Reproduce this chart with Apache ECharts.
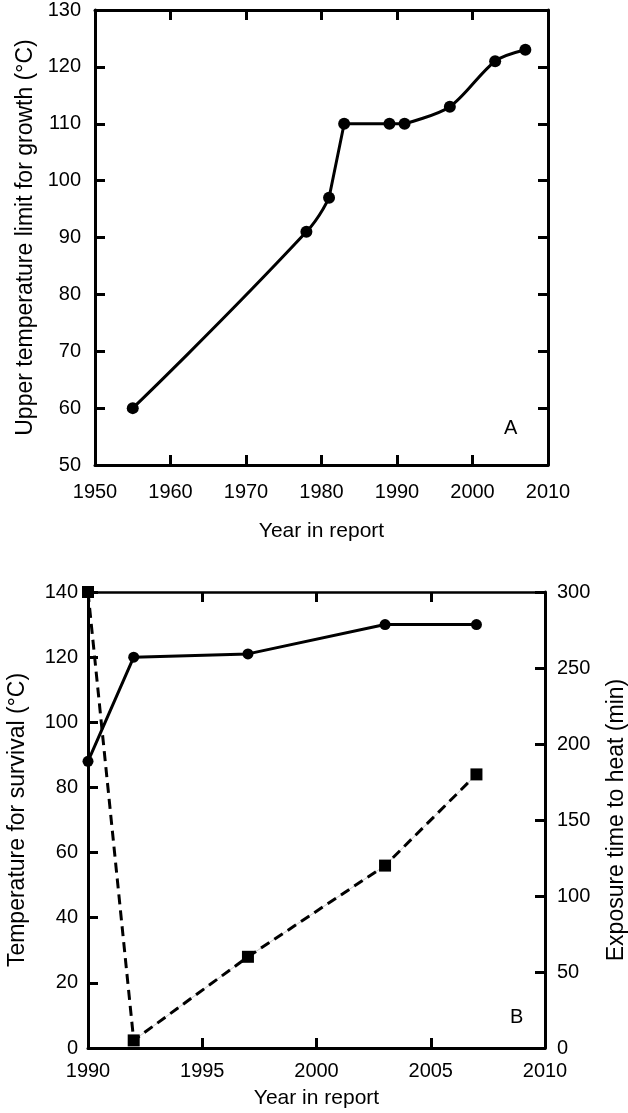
<!DOCTYPE html>
<html>
<head>
<meta charset="utf-8">
<script src="https://cdn.jsdelivr.net/npm/echarts@6/dist/echarts.min.js"></script>
<style>
html,body{margin:0;padding:0;background:#fff;}
#chart{width:628px;height:1113px;}
</style>
</head>
<body>
<div id="chart"></div>
<script>
// ---- Panel A data ----
const yearsA = [1955, 1978, 1981, 1983, 1989, 1991, 1997, 2003, 2007];
const growthLimitA = [60, 91, 97, 110, 110, 110, 113, 121, 123];
const xTicksA = [1950, 1960, 1970, 1980, 1990, 2000, 2010];
const yTicksA = [50, 60, 70, 80, 90, 100, 110, 120, 130];

// ---- Panel B data ----
const yearsB = [1990, 1992, 1997, 2003, 2007];
const survivalTempB = [88, 120, 121, 130, 130];
const exposureTimeB = [300, 5, 60, 120, 180];
const xTicksB = [1990, 1995, 2000, 2005, 2010];
const yTicksLeftB = [0, 20, 40, 60, 80, 100, 120, 140];
const yTicksRightB = [0, 50, 100, 150, 200, 250, 300];

const FONT = "'Liberation Sans', Arial, Helvetica, sans-serif";
const BLACK = '#000';

function rangeOf(t) { return { min: t[0], max: t[t.length - 1], interval: t[1] - t[0] }; }
function zip(xs, ys) { return xs.map((x, i) => [x, ys[i]]); }
function lbl(margin, show) {
  return { show: show !== false, color: BLACK, fontSize: 20, fontFamily: FONT, margin: margin,
           formatter: v => String(v) };
}

function axisBase(ticks, opts) {
  const r = rangeOf(ticks);
  return Object.assign({
    type: 'value',
    min: r.min, max: r.max, interval: r.interval,
    splitLine: { show: false },
    axisLine: { show: true, onZero: false, lineStyle: { color: BLACK, width: 3 } },
    axisTick: { show: true, inside: true, length: 10, lineStyle: { color: BLACK, width: 3 } },
    axisLabel: lbl(10),
    nameTextStyle: { color: BLACK, fontSize: 21, fontFamily: FONT }
  }, opts);
}

const chart = echarts.init(document.getElementById('chart'), null, { renderer: 'canvas' });

const ptsA = zip(yearsA, growthLimitA);
const yTitle = { color: BLACK, fontSize: 23, fontFamily: FONT };

const option = {
  animation: false,
  backgroundColor: '#fff',
  textStyle: { fontFamily: FONT },
  grid: [
    { left: 95, top: 10, width: 453, height: 455, containLabel: false, outerBoundsMode: 'none' },
    { left: 88, top: 592, width: 457, height: 456, containLabel: false, outerBoundsMode: 'none' }
  ],
  xAxis: [
    axisBase(xTicksA, { gridIndex: 0, position: 'bottom', axisLabel: lbl(17),
      name: 'Year in report', nameLocation: 'middle', nameGap: 56 }),
    axisBase(xTicksA, { gridIndex: 0, position: 'top', axisLabel: lbl(0, false) }),
    axisBase(xTicksB, { gridIndex: 1, position: 'bottom', axisLabel: lbl(13),
      name: 'Year in report', nameLocation: 'middle', nameGap: 40 }),
    axisBase(xTicksB, { gridIndex: 1, position: 'top', axisLabel: lbl(0, false),
      axisLine: { show: true, onZero: false, lineStyle: { color: BLACK, width: 2.5 } } })
  ],
  yAxis: [
    axisBase(yTicksA, { gridIndex: 0, position: 'left', axisLabel: lbl(14),
      name: 'Upper temperature limit for growth (°C)', nameLocation: 'middle', nameRotate: 90, nameGap: 56,
      nameTextStyle: yTitle }),
    axisBase(yTicksA, { gridIndex: 0, position: 'right', axisLabel: lbl(0, false) }),
    axisBase(yTicksLeftB, { gridIndex: 1, position: 'left', axisLabel: lbl(10),
      name: 'Temperature for survival (°C)', nameLocation: 'middle', nameRotate: 90, nameGap: 59,
      nameTextStyle: yTitle }),
    axisBase(yTicksRightB, { gridIndex: 1, position: 'right', axisLabel: lbl(12),
      name: 'Exposure time to heat (min)', nameLocation: 'middle', nameRotate: 90, nameGap: 60,
      nameTextStyle: yTitle })
  ],
  series: [
    // Panel A: curved rising section
    { type: 'line', xAxisIndex: 0, yAxisIndex: 0, data: ptsA.slice(0, 3), smooth: 0.5,
      symbol: 'none', clip: false,
      lineStyle: { color: BLACK, width: 3 } },
    // Panel A: steep step and plateau
    { type: 'line', xAxisIndex: 0, yAxisIndex: 0, data: ptsA.slice(2, 6), smooth: false,
      symbol: 'none', clip: false,
      lineStyle: { color: BLACK, width: 3 } },
    // Panel A: recent rise
    { type: 'line', xAxisIndex: 0, yAxisIndex: 0, data: ptsA.slice(5), smooth: 0.3,
      symbol: 'none', clip: false,
      lineStyle: { color: BLACK, width: 3 } },
    // Panel A markers
    { type: 'scatter', xAxisIndex: 0, yAxisIndex: 0, data: ptsA, symbol: 'circle', symbolSize: 12,
      clip: false, itemStyle: { color: BLACK, opacity: 1 } },

    // Panel B: faint underlay for exposure line
    { type: 'line', xAxisIndex: 2, yAxisIndex: 3, data: zip(yearsB, exposureTimeB).slice(1),
      symbol: 'none', clip: false, z: 1,
      lineStyle: { color: '#c8c8c8', width: 1 } },
    // Panel B: survival temperature
    { type: 'line', xAxisIndex: 2, yAxisIndex: 2, data: zip(yearsB, survivalTempB),
      symbol: 'circle', symbolSize: 11, clip: false,
      lineStyle: { color: BLACK, width: 3 }, itemStyle: { color: BLACK, opacity: 1 } },
    // Panel B: exposure time
    { type: 'line', xAxisIndex: 2, yAxisIndex: 3, data: zip(yearsB, exposureTimeB),
      symbol: 'rect', symbolSize: 12, clip: false,
      lineStyle: { color: BLACK, width: 3, type: [10, 6] }, itemStyle: { color: BLACK, opacity: 1 } }
  ],
  graphic: [
    { type: 'text', left: 504, top: 418, style: { text: 'A', fill: BLACK, font: '20px ' + FONT } },
    { type: 'text', left: 510, top: 1007, style: { text: 'B', fill: BLACK, font: '20px ' + FONT } }
  ]
};

chart.setOption(option);
</script>
</body>
</html>
